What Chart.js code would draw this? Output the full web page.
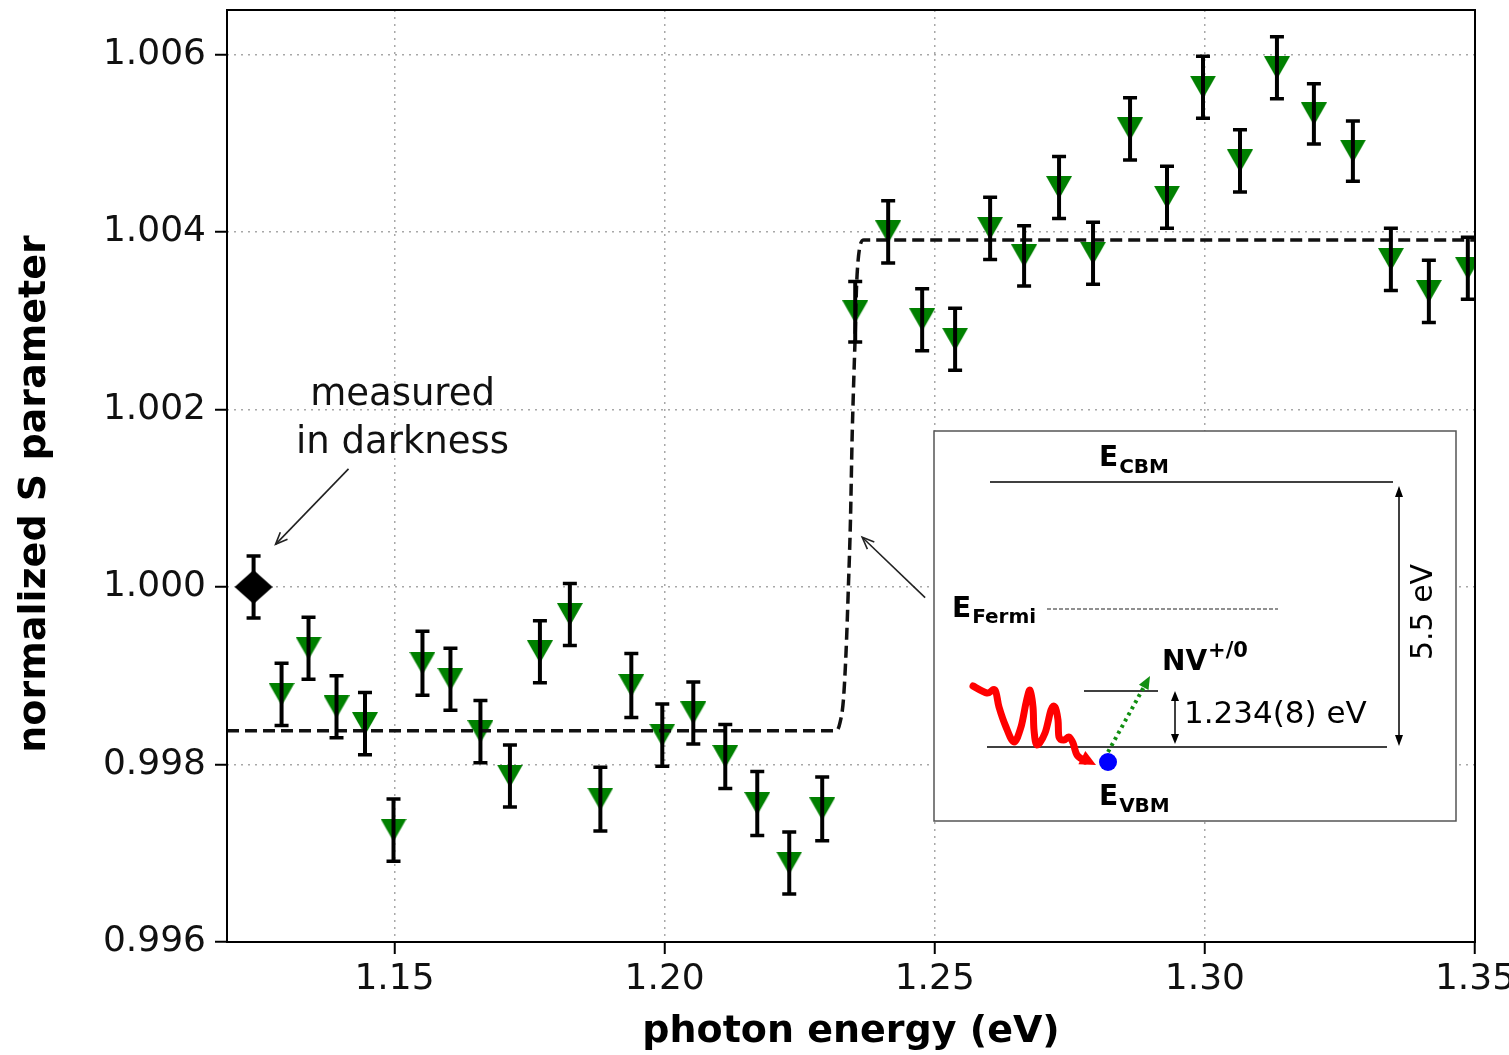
<!DOCTYPE html>
<html><head><meta charset="utf-8">
<script src="https://cdn.jsdelivr.net/npm/chart.js@4.4.1/dist/chart.umd.min.js"></script>
<style>html,body{margin:0;padding:0;background:#fff;}canvas{display:block;}</style>
</head><body>
<canvas id="c" width="1509" height="1055"></canvas>
<script>
// ---- data ----
const photonEnergy = [1.12910,1.13409,1.13927,1.14454,1.14982,1.15518,1.16036,1.16591,1.17137,1.17692,
  1.18246,1.18811,1.19384,1.19957,1.20531,1.21123,1.21715,1.22307,1.22917,1.23528,
  1.24138,1.24767,1.25377,1.26025,1.26654,1.27301,1.27930,1.28615,1.29299,1.29965,
  1.30650,1.31334,1.32018,1.32740,1.33443,1.34146,1.34867];
const sParam = [0.99879,0.99931,0.99865,0.99846,0.99726,0.99914,0.99896,0.99837,0.99787,0.99927,
  0.99969,0.99761,0.99889,0.99833,0.99858,0.99809,0.99756,0.99689,0.99750,1.00310,
  1.00400,1.00301,1.00279,1.00404,1.00373,1.00450,1.00376,1.00516,1.00439,1.00563,
  1.00480,1.00585,1.00533,1.00491,1.00369,1.00333,1.00359];
const sErr = [0.00035,0.00035,0.00035,0.00035,0.00035,0.00036,0.00035,0.00035,0.00035,0.00035,
  0.00035,0.00036,0.00036,0.00035,0.00035,0.00036,0.00036,0.00035,0.00036,0.00034,
  0.00035,0.00035,0.00035,0.00035,0.00034,0.00035,0.00035,0.00035,0.00035,0.00035,
  0.00035,0.00035,0.00034,0.00034,0.00035,0.00035,0.00035];
const darkEnergy = [1.12392];
const darkS = [1.00000];
const darkErr = [0.00035];
const fitEnergy = [1.1190,1.2318,1.2325,1.2331,1.2336,1.2340,1.2344,1.2347,1.2349,1.2353,1.2355,1.2357,1.2362,1.2369,1.3500];
const fitS = [0.99838,0.99838,0.99848,0.99873,0.99929,0.99997,1.00075,1.00166,1.00211,1.00289,1.00334,1.00359,1.00385,1.00391,1.00391];
const xTicks = [1.15,1.20,1.25,1.30,1.35];
const xTickLabels = ['1.15','1.20','1.25','1.30','1.35'];
const yTicks = [0.996,0.998,1.000,1.002,1.004,1.006];
const yTickLabels = ['0.996','0.998','1.000','1.002','1.004','1.006'];

// ---- marker images ----
function triMarker(){
  const c=document.createElement('canvas'); c.width=26; c.height=23;
  const g=c.getContext('2d'); g.fillStyle='#008000';
  g.beginPath(); g.moveTo(0,0); g.lineTo(26,0); g.lineTo(13,23); g.closePath(); g.fill();
  return c;
}
function diamondMarker(){
  const c=document.createElement('canvas'); c.width=38; c.height=34;
  const g=c.getContext('2d'); g.fillStyle='#000';
  g.beginPath(); g.moveTo(19,0); g.lineTo(38,17); g.lineTo(19,34); g.lineTo(0,17); g.closePath(); g.fill();
  return c;
}

const FONT='"DejaVu Sans", Verdana, sans-serif';

// keep the plot frame at the reference position (top edge 10px below the canvas top)
const layoutFix = {
  id:'layoutFix',
  afterLayout(chart){
    const ca = chart.chartArea, ys = chart.scales.y;
    const want = 10;
    ca.top = want; ca.height = ca.bottom - ca.top;
    ys.top = want; ys.height = ys.bottom - ys.top;
    ys.configure();
    // the reference's y-axis title sits a little below the axis middle
    ys.bottom = ca.bottom + 36;
  }
};

const errorBarPlugin = {
  id:'errbars',
  afterDatasetsDraw(chart){
    const {ctx, chartArea:a, scales:{x,y}} = chart;
    ctx.save();
    ctx.beginPath(); ctx.rect(a.left,a.top,a.right-a.left,a.bottom-a.top); ctx.clip();
    ctx.strokeStyle='#000';
    const draw=(xs,ys,es)=>{
      for(let i=0;i<xs.length;i++){
        const px=x.getPixelForValue(xs[i]);
        const t=y.getPixelForValue(ys[i]+es[i]);
        const b=y.getPixelForValue(ys[i]-es[i]);
        ctx.lineWidth=4; ctx.beginPath(); ctx.moveTo(px,t); ctx.lineTo(px,b); ctx.stroke();
        ctx.lineWidth=3.5; ctx.beginPath();
        ctx.moveTo(px-7,t); ctx.lineTo(px+7,t); ctx.moveTo(px-7,b); ctx.lineTo(px+7,b); ctx.stroke();
      }
    };
    draw(photonEnergy,sParam,sErr);
    draw(darkEnergy,darkS,darkErr);
    ctx.restore();
  }
};

function arrowHeadFilled(ctx,x1,y1,x2,y2,len,w,color){
  const ang=Math.atan2(y2-y1,x2-x1);
  ctx.save(); ctx.fillStyle=color; ctx.translate(x2,y2); ctx.rotate(ang);
  ctx.beginPath(); ctx.moveTo(0,0); ctx.lineTo(-len,-w/2); ctx.lineTo(-len,w/2); ctx.closePath(); ctx.fill();
  ctx.restore();
}
function openArrow(ctx,x1,y1,x2,y2){
  ctx.save(); ctx.strokeStyle='#222'; ctx.lineWidth=1.6;
  ctx.beginPath(); ctx.moveTo(x1,y1); ctx.lineTo(x2,y2); ctx.stroke();
  const ang=Math.atan2(y2-y1,x2-x1);
  ctx.translate(x2,y2); ctx.rotate(ang);
  ctx.beginPath(); ctx.moveTo(-12,-5); ctx.lineTo(0,0); ctx.lineTo(-12,5); ctx.stroke();
  ctx.restore();
}
function subText(ctx,main,sub,x,y,dy,mainSize,subSize){
  ctx.font='bold '+mainSize+'px '+FONT;
  ctx.textAlign='left'; ctx.textBaseline='alphabetic';
  ctx.fillText(main,x,y);
  const w=ctx.measureText(main).width;
  ctx.font='bold '+subSize+'px '+FONT;
  ctx.fillText(sub,x+w+1,y+dy);
}
function catmull(ctx,p){
  ctx.moveTo(p[0][0],p[0][1]);
  for(let i=0;i<p.length-1;i++){
    const p0=p[Math.max(0,i-1)], p1=p[i], p2=p[i+1], p3=p[Math.min(p.length-1,i+2)];
    const c1x=p1[0]+(p2[0]-p0[0])/6, c1y=p1[1]+(p2[1]-p0[1])/6;
    const c2x=p2[0]-(p3[0]-p1[0])/6, c2y=p2[1]-(p3[1]-p1[1])/6;
    ctx.bezierCurveTo(c1x,c1y,c2x,c2y,p2[0],p2[1]);
  }
}

const decorPlugin = {
  id:'decor',
  afterDatasetsDraw(chart){
    const {ctx, chartArea:a, scales:{x,y}} = chart;
    // frame
    ctx.save();
    ctx.strokeStyle='#000'; ctx.lineWidth=2;
    ctx.strokeRect(a.left,a.top,a.right-a.left,a.bottom-a.top);
    ctx.restore();

    // annotation: measured in darkness
    ctx.save();
    ctx.fillStyle='#111'; ctx.font='37px '+FONT; ctx.textAlign='center'; ctx.textBaseline='alphabetic';
    ctx.fillText('measured', x.getPixelForValue(1.1515), y.getPixelForValue(1.00205));
    ctx.fillText('in darkness', x.getPixelForValue(1.1515), y.getPixelForValue(1.00151));
    ctx.restore();
    openArrow(ctx, x.getPixelForValue(1.14149), y.getPixelForValue(1.00133), x.getPixelForValue(1.12799), y.getPixelForValue(1.00048));
    openArrow(ctx, x.getPixelForValue(1.24822), y.getPixelForValue(0.99988), x.getPixelForValue(1.23657), y.getPixelForValue(1.00056));

    // inset
    const ox=Math.round(x.getPixelForValue(1.24989)), oy=Math.round(y.getPixelForValue(1.001757));
    ctx.save();
    ctx.translate(ox,oy);
    ctx.fillStyle='#fff'; ctx.fillRect(0,0,522,390);
    ctx.strokeStyle='#555'; ctx.lineWidth=1.5; ctx.strokeRect(0,0,522,390);
    ctx.fillStyle='#000'; ctx.strokeStyle='#000';
    // levels
    ctx.lineWidth=1.5;
    ctx.beginPath(); ctx.moveTo(56,51); ctx.lineTo(459,51); ctx.stroke();
    ctx.beginPath(); ctx.moveTo(53,316); ctx.lineTo(453,316); ctx.stroke();
    ctx.beginPath(); ctx.moveTo(150,260); ctx.lineTo(224,260); ctx.stroke();
    ctx.save(); ctx.lineWidth=1.2; ctx.strokeStyle='#222'; ctx.setLineDash([4,2]);
    ctx.beginPath(); ctx.moveTo(113,178); ctx.lineTo(344,178); ctx.stroke(); ctx.restore();
    // big double arrow
    ctx.lineWidth=1.5;
    ctx.beginPath(); ctx.moveTo(465,64); ctx.lineTo(465,306); ctx.stroke();
    arrowHeadFilled(ctx,465,100,465,55,11,8,'#000');
    arrowHeadFilled(ctx,465,280,465,315,11,8,'#000');
    // small double arrow
    ctx.beginPath(); ctx.moveTo(241,268); ctx.lineTo(241,304); ctx.stroke();
    arrowHeadFilled(ctx,241,290,241,260,10,8,'#000');
    arrowHeadFilled(ctx,241,280,241,313,10,8,'#000');
    // texts
    subText(ctx,'E','CBM',165,35,7,28,20);
    subText(ctx,'E','Fermi',18,186,6,28,20);
    subText(ctx,'E','VBM',165,374,7,28,20);
    subText(ctx,'NV','+/0',228,239,-13,28,21);
    ctx.font='31px '+FONT; ctx.textAlign='left'; ctx.textBaseline='middle';
    ctx.fillText('1.234(8) eV',250,284);
    ctx.save(); ctx.translate(490,181); ctx.rotate(-Math.PI/2);
    ctx.font='30px '+FONT; ctx.textAlign='center'; ctx.textBaseline='middle';
    ctx.fillText('5.5 eV',0,0); ctx.restore();
    // green dotted arrow
    ctx.save(); ctx.strokeStyle='#118f11'; ctx.lineWidth=4; ctx.setLineDash([3,4]);
    ctx.beginPath(); ctx.moveTo(174,321); ctx.lineTo(211,254); ctx.stroke(); ctx.restore();
    arrowHeadFilled(ctx,174,321,216,245,13,11,'#118f11');
    // blue dot
    ctx.fillStyle='#0000ff'; ctx.beginPath(); ctx.arc(174,331,9,0,Math.PI*2); ctx.fill();
    // red wave
    const wp=[[39,255],[53,262],[61,259],[65,276],[72,296],[80,311],[87,296],[92,272],[96,259],[99,276],[100,299],[103,314],[111,302],[117,279],[121,276],[124,289],[125,306],[130,309],[135,306],[139,312],[143,324],[151,330]];
    ctx.save();
    ctx.strokeStyle='#ff0000'; ctx.lineWidth=7; ctx.lineJoin='round'; ctx.lineCap='round';
    ctx.beginPath(); catmull(ctx,wp); ctx.stroke();
    ctx.restore();
    arrowHeadFilled(ctx,143,324,162,334,16,15,'#ff0000');
    ctx.restore();
  }
};

const fixPad = (s)=>{ s.paddingTop=0; s.paddingBottom=0; s.paddingLeft=0; s.paddingRight=0; };

new Chart(document.getElementById('c'), {
  data:{
    datasets:[
      {type:'line', label:'fit', data:fitEnergy.map((v,i)=>({x:v,y:fitS[i]})),
       borderColor:'#111', borderWidth:3.5, borderDash:[12,6], pointRadius:0, fill:false,
       cubicInterpolationMode:'monotone', order:1, clip:0},
      {type:'scatter', label:'illuminated', data:photonEnergy.map((v,i)=>({x:v,y:sParam[i]})),
       pointStyle:triMarker(), pointRadius:13, order:2, clip:0},
      {type:'scatter', label:'darkness', data:darkEnergy.map((v,i)=>({x:v,y:darkS[i]})),
       pointStyle:diamondMarker(), pointRadius:19, order:2, clip:0}
    ]
  },
  options:{
    responsive:false, animation:false, devicePixelRatio:1,
    layout:{padding:{top:10,right:34,left:0,bottom:0}},
    plugins:{legend:{display:false}, tooltip:{enabled:false}},
    scales:{
      x:{type:'linear', position:'bottom', min:1.119, max:1.35,
        afterBuildTicks:(s)=>{s.ticks=xTicks.map(v=>({value:v}));},
        afterFit:(s)=>{s.height=113; fixPad(s);},
        ticks:{callback:(v,i)=>xTickLabels[i], color:'#111', padding:4, maxRotation:0, autoSkip:false,
               font:{family:FONT,size:36}},
        grid:{color:'#a8a8a8', lineWidth:1.5, drawTicks:true, tickLength:12, tickColor:'#000', tickWidth:2},
        border:{display:true, color:'#000', width:2, dash:[2,5]},
        title:{display:true, text:'photon energy (eV)', color:'#000', padding:{top:0,bottom:0},
               font:{family:FONT,size:38,weight:'bold'}}
      },
      y:{type:'linear', position:'left', min:0.996, max:1.0065,
        afterBuildTicks:(s)=>{s.ticks=yTicks.map(v=>({value:v}));},
        afterFit:(s)=>{s.width=227; fixPad(s);},
        ticks:{callback:(v,i)=>yTickLabels[i], color:'#111', padding:9, autoSkip:false,
               font:{family:FONT,size:36}},
        grid:{color:'#a8a8a8', lineWidth:1.5, drawTicks:true, tickLength:12, tickColor:'#000', tickWidth:2},
        border:{display:false, color:'#000', width:2, dash:[2,5]},
        title:{display:true, text:'normalized S parameter', color:'#000', padding:{top:12,bottom:0},
               font:{family:FONT,size:38,weight:'bold'}}
      }
    }
  },
  plugins:[layoutFix, errorBarPlugin, decorPlugin]
});
</script>
</body></html>
